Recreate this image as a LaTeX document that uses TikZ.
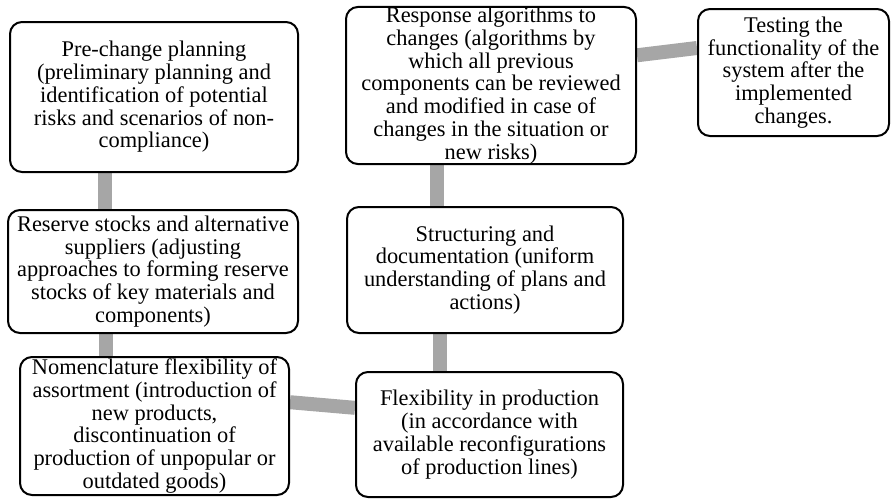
\documentclass[tikz,border=0pt]{standalone}
\usepackage{fontspec}
\setmainfont{Liberation Serif}
\usetikzlibrary{calc,backgrounds}

\begin{document}
\begin{tikzpicture}[x=0.5pt, y=-0.5pt, font=\fontsize{11.2}{11.4}\selectfont,
  stagebox/.style={draw, line width=1pt, rounded corners=6pt, fill=white,
    align=center, inner sep=0pt},
  link/.style={line width=7pt, black!35}]
\useasboundingbox (0,0) rectangle (892,499);
\foreach \nm/\x/\y/\w/\h/\txt in {
    pre/154/97/144/75/{Pre-change planning\\(preliminary planning and\\identification of potential\\risks and scenarios of non-\\compliance)},
    reserve/153/271.5/145/61.5/{Reserve stocks and alternative\\suppliers (adjusting\\approaches to forming reserve\\stocks of key materials and\\components)},
    nomen/154.5/426/134.5/69/{Nomenclature flexibility of\\assortment (introduction of\\new products,\\discontinuation of\\production of unpopular or\\outdated goods)},
    flex/489.5/434.5/133.5/62.5/{Flexibility in production\\(in accordance with\\available reconfigurations\\of production lines)},
    struct/485/270/138/63/{Structuring and\\documentation (uniform\\understanding of plans and\\actions)},
    resp/491/85.5/145/78.5/{Response algorithms to\\changes (algorithms by\\which all previous\\components can be reviewed\\and modified in case of\\changes in the situation or\\new risks)},
    test/793.5/72.5/95.5/63.5/{Testing the\\functionality of the\\system after the\\implemented\\changes.}}{
  \node[stagebox, minimum width=\w pt, minimum height=\h pt] (\nm) at (\x,\y) {\txt};
}
% connectors behind the boxes
\coordinate (c1) at ($(pre.south west)!0.33!(pre.south east)$);
\coordinate (c2) at ($(reserve.south west)!0.34!(reserve.south east)$);
\coordinate (c3) at ($(flex.north west)!0.315!(flex.north east)$);
\coordinate (c4) at ($(resp.south west)!0.314!(resp.south east)$);
\begin{scope}[on background layer]
\draw[link] (c1) -- (c1 |- reserve.north);
\draw[link] (c2) -- (c2 |- nomen.north);
\draw[link] ($(nomen.north east)!0.33!(nomen.south east)$) -- ($(flex.north west)!0.29!(flex.south west)$);
\draw[link] (c3) -- (c3 |- struct.south);
\draw[link] (c4) -- (c4 |- struct.north);
\draw[link] ($(resp.north east)!0.31!(resp.south east)$) -- ($(test.north west)!0.31!(test.south west)$);
\end{scope}
\end{tikzpicture}
\end{document}
